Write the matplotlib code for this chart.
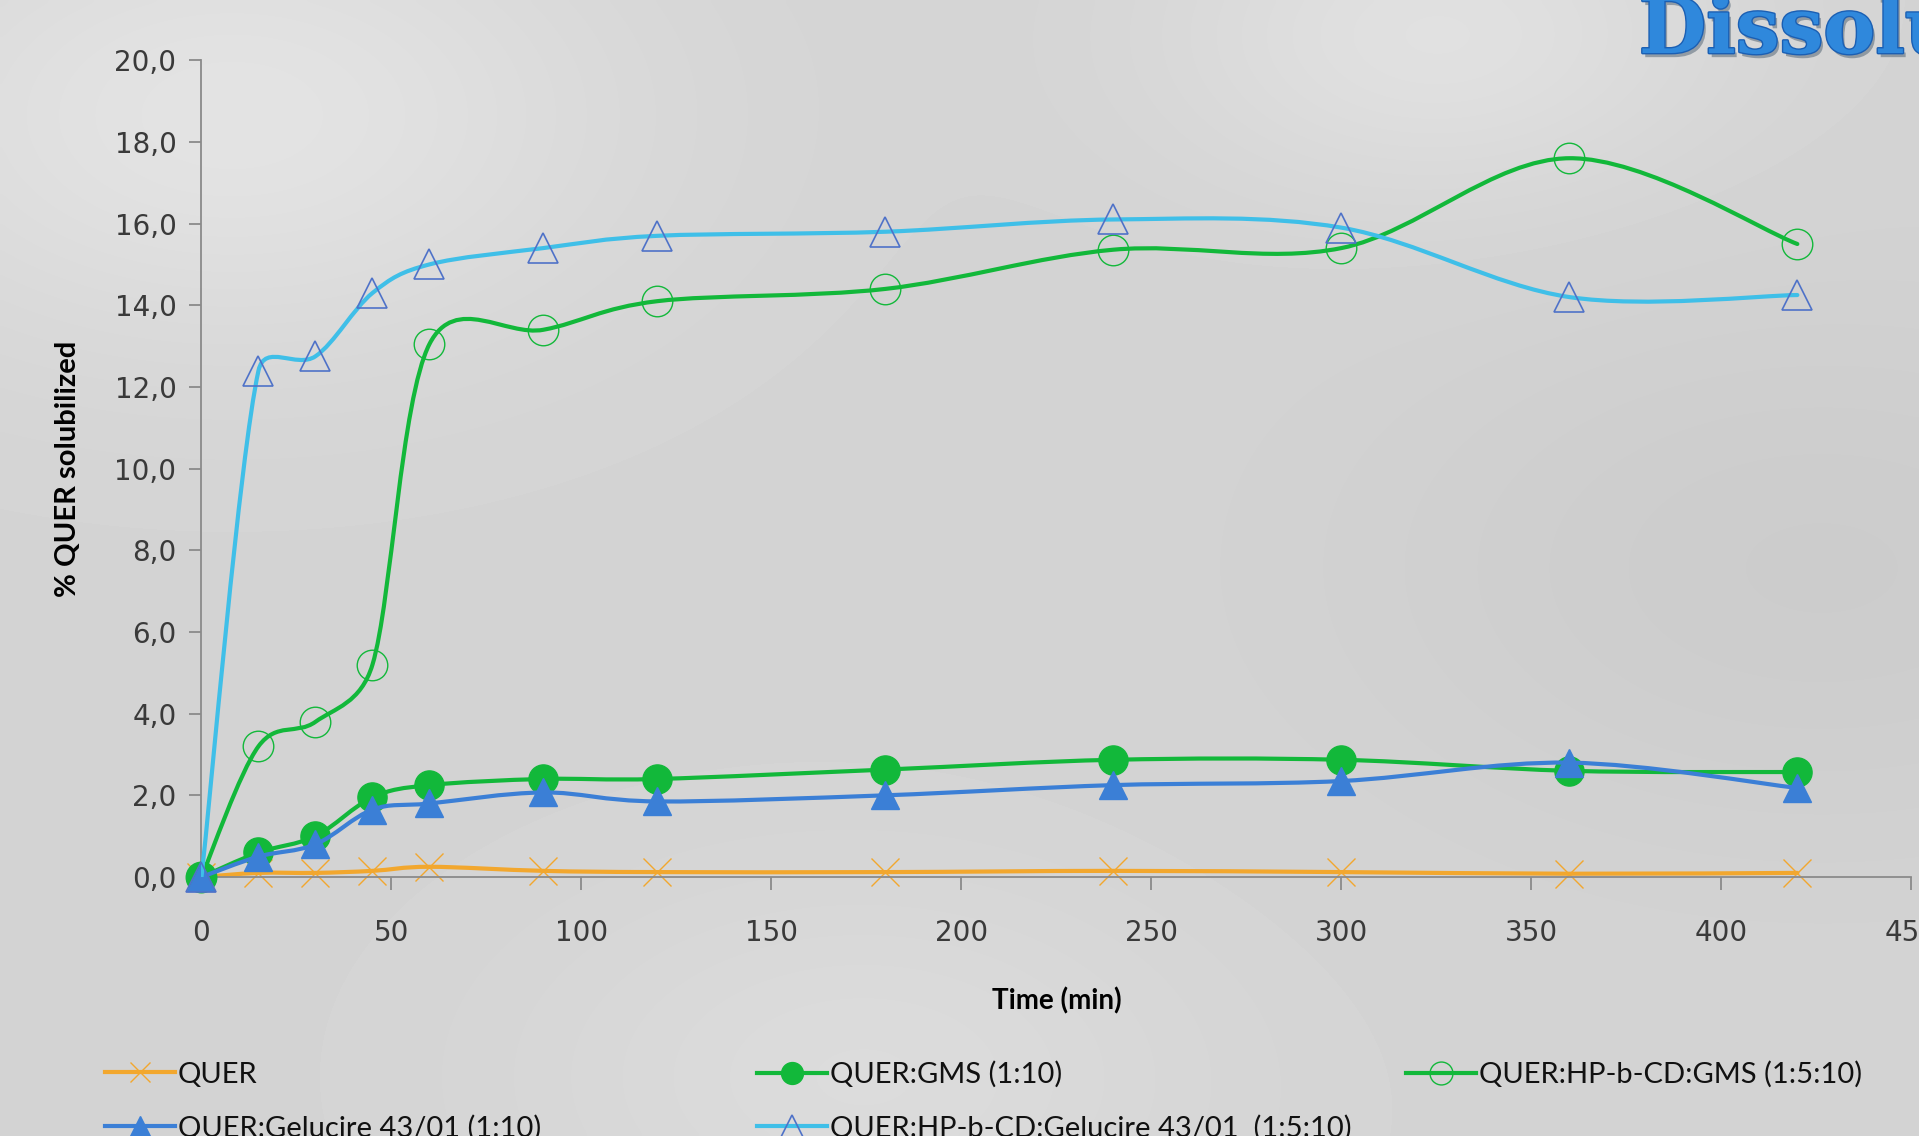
import numpy as np
import matplotlib.pyplot as plt
import matplotlib.patheffects as pe
from matplotlib.path import Path
from matplotlib.patches import PathPatch
from matplotlib.lines import Line2D

# sampling times (min) and % QUER solubilized for each formulation
time = [0, 15, 30, 45, 60, 90, 120, 180, 240, 300, 360, 420]
quer = [0.0, 0.10, 0.10, 0.15, 0.25, 0.15, 0.12, 0.12, 0.15, 0.12, 0.08, 0.10]
quer_gms = [0.0, 0.60, 1.00, 1.95, 2.25, 2.40, 2.40, 2.63, 2.87, 2.87, 2.60, 2.57]
quer_hp_gms = [0.0, 3.20, 3.80, 5.20, 13.05, 13.40, 14.10, 14.40, 15.36, 15.40, 17.60, 15.50]
quer_gel = [0.0, 0.50, 0.80, 1.65, 1.80, 2.07, 1.85, 2.00, 2.25, 2.35, 2.80, 2.18]
quer_hp_gel = [0.0, 12.40, 12.75, 14.30, 15.00, 15.40, 15.70, 15.80, 16.10, 15.90, 14.20, 14.25]

labels = ["QUER", "QUER:GMS (1:10)", "QUER:HP-b-CD:GMS (1:5:10)",
          "QUER:Gelucire 43/01 (1:10)", "QUER:HP-b-CD:Gelucire 43/01  (1:5:10)"]

ORANGE = "#f2a72e"
GREEN = "#12b83a"
BLUE = "#3b7fd6"
CYAN = "#3fbfe8"
TRI_EDGE = "#4f72c8"


def smooth_path(ax, x, y, limit=0.5):
    # smoothed line through every point: Catmull-Rom tangents in screen space,
    # with each control arm capped at a fraction of its own segment length
    to_px = ax.transData
    pts = to_px.transform(np.column_stack([x, y]).astype(float))
    n = len(pts)
    seg = np.hypot(*np.diff(pts, axis=0).T)

    def arm(v, length):
        v = v / 6.0
        norm = np.hypot(*v)
        cap = limit * length
        return v * (cap / norm) if norm > cap else v

    verts = [pts[0]]
    for i in range(n - 1):
        p1, p2 = pts[i], pts[i + 1]
        p0 = pts[i - 1] if i > 0 else p1
        p3 = pts[i + 2] if i + 2 < n else p2
        c1 = p1 + arm(p2 - p0, seg[i])
        c2 = p2 - arm(p3 - p1, seg[i])
        verts += [c1, c2, p2]
    verts = to_px.inverted().transform(np.array(verts))
    codes = [Path.MOVETO] + [Path.CURVE4] * (3 * (n - 1))
    return Path(verts, codes)


fig = plt.figure(figsize=(19.19, 11.36), dpi=100)
fig.patch.set_facecolor("#d5d5d5")

# soft grey backdrop
bg = fig.add_axes([0, 0, 1, 1], zorder=-10)
gx, gy = np.meshgrid(np.linspace(0, 1, 400), np.linspace(0, 1, 240))
shade = 0.83 + 0.06 * np.exp(-((gx - 0.12) ** 2 + (gy - 0.9) ** 2) / 0.04) \
    + 0.05 * np.exp(-((gx - 0.75) ** 2 + (gy - 0.97) ** 2) / 0.02) \
    + 0.03 * np.exp(-((gx - 0.45) ** 2 + (gy - 0.05) ** 2) / 0.03) \
    - 0.03 * np.exp(-((gx - 0.95) ** 2 + (gy - 0.5) ** 2) / 0.06)
bg.imshow(shade, cmap="gray", vmin=0, vmax=1, aspect="auto",
          extent=[0, 1, 0, 1], origin="lower", interpolation="bicubic")
bg.set_axis_off()

ax = fig.add_axes([0.105, 0.228, 0.891, 0.719])
ax.patch.set_alpha(0)
ax.set_xlim(0, 450)
ax.set_ylim(0, 20)

series = [
    (quer, ORANGE, dict(marker="x", markersize=20, markeredgewidth=1.0,
                        markeredgecolor=ORANGE, markerfacecolor="none")),
    (quer_gms, GREEN, dict(marker="o", markersize=21, markeredgewidth=1.0,
                           markeredgecolor=GREEN, markerfacecolor=GREEN)),
    (quer_hp_gms, GREEN, dict(marker="o", markersize=22, markeredgewidth=1.0,
                              markeredgecolor=GREEN, markerfacecolor="none")),
    (quer_gel, BLUE, dict(marker="^", markersize=20, markeredgewidth=1.0,
                          markeredgecolor=BLUE, markerfacecolor=BLUE)),
    (quer_hp_gel, CYAN, dict(marker="^", markersize=22, markeredgewidth=1.2,
                             markeredgecolor=TRI_EDGE, markerfacecolor="none")),
]

handles = []
for k, (vals, col, mk) in enumerate(series):
    ax.add_patch(PathPatch(smooth_path(ax, time, vals), facecolor="none", edgecolor=col,
                           lw=3.0, zorder=2 + k, capstyle="round"))
    ax.plot(time, vals, ls="none", zorder=2 + k, clip_on=False, **mk)
    hm = dict(mk)
    hm["markersize"] = mk["markersize"] * 0.75
    handles.append(Line2D([], [], color=col, lw=3.0, **hm))

ax.set_xticks(np.arange(0, 451, 50))
ax.set_yticks(np.arange(0, 20.1, 2))
ax.set_yticklabels([f"{v:.1f}".replace(".", ",") for v in np.arange(0, 20.1, 2)])

for side in ["top", "right"]:
    ax.spines[side].set_visible(False)
for side in ["left", "bottom"]:
    ax.spines[side].set_color("#8a8a8a")
    ax.spines[side].set_linewidth(1.3)
ax.tick_params(axis="both", direction="out", length=9, width=1.3, color="#8a8a8a",
               labelsize=20, labelcolor="#3a3a3a")
ax.tick_params(axis="x", pad=21)
ax.tick_params(axis="y", pad=9)

ax.set_xlabel("Time (min)", fontsize=20, fontweight="bold", family="Lato", labelpad=29)
ax.set_ylabel("% QUER solubilized", fontsize=21, fontweight="bold", family="Lato", labelpad=24)

# legend laid out in two rows under the axes
legend_pos = [(0.041, 0.054), (0.381, 0.054), (0.719, 0.054), (0.041, 0.007), (0.381, 0.007)]
for i, (px, py) in enumerate(legend_pos):
    lg = fig.legend([handles[i]], [labels[i]], loc="center left", bbox_to_anchor=(px, py),
                    frameon=False, handlelength=2.4, handletextpad=0.1,
                    prop={"family": "Lato", "size": 21})
    for t in lg.get_texts():
        t.set_color("#111111")

# slide heading, running off the right edge
fig.text(0.854, 1 - 53 / 1136, "Dissolution", fontsize=56, fontweight="bold",
         family="DejaVu Serif", color="#2f88dc", va="baseline", ha="left",
         path_effects=[pe.SimplePatchShadow(offset=(2, -3), alpha=0.35),
                       pe.Stroke(linewidth=2.0, foreground="#1b5fb3"), pe.Normal()])

fig.savefig("out.png", dpi=100, facecolor=fig.get_facecolor())
